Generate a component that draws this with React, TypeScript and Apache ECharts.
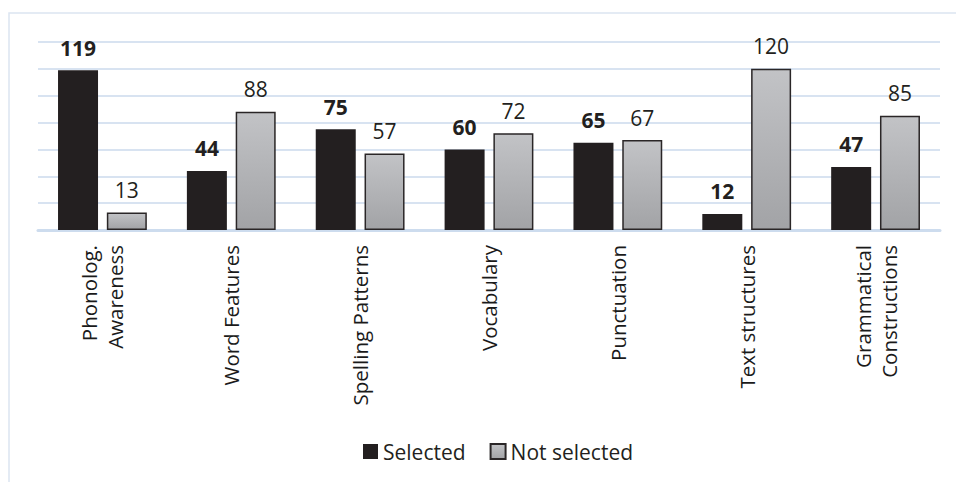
import React, { useEffect, useRef } from "react";
import * as echarts from "echarts";

const categories = [
  "Phonolog.\nAwareness",
  "Word Features",
  "Spelling Patterns",
  "Vocabulary",
  "Punctuation",
  "Text structures",
  "Grammatical\nConstructions",
];
const selected = [119, 44, 75, 60, 65, 12, 47];
const notSelected = [13, 88, 57, 72, 67, 120, 85];

const FONT = "'Open Sans', 'Noto Sans', sans-serif";

export default function App() {
  const ref = useRef<HTMLDivElement>(null);
  useEffect(() => {
    if (!ref.current) return;
    const chart = echarts.init(ref.current, null, { renderer: "svg" });
    const grayGrad = new echarts.graphic.LinearGradient(0, 0, 0, 1, [
      { offset: 0, color: "#c2c3c6" },
      { offset: 1, color: "#a2a3a6" },
    ]);
    chart.setOption({
      animation: false,
      backgroundColor: "#ffffff",
      textStyle: { fontFamily: FONT },
      graphic: [
        {
          type: "rect",
          shape: { x: 9, y: 13, width: 960, height: 500 },
          style: { fill: "none", stroke: "#dce5f1", lineWidth: 1.5 },
          silent: true,
          z: -1,
        },
      ],
      grid: { left: 38, right: 16, top: 42, bottom: 252, containLabel: false },
      legend: {
        left: 358,
        top: 436,
        itemWidth: 15,
        itemHeight: 15,
        itemGap: 24,
        textStyle: { fontFamily: FONT, fontSize: 21, color: "#231f20" },
        data: [
          { name: "Selected", icon: "rect" },
          { name: "Not selected", icon: "rect" },
        ],
      },
      xAxis: {
        type: "category",
        data: categories,
        axisLine: { show: true, lineStyle: { color: "#cddcee", width: 3 } },
        axisTick: { show: false },
        axisLabel: {
          rotate: 90,
          interval: 0,
          margin: 15,
          fontFamily: FONT,
          fontSize: 20.5,
          color: "#1a1a1a",
          lineHeight: 26,
        },
      },
      yAxis: {
        type: "value",
        min: 0,
        max: 140,
        interval: 20,
        axisLabel: { show: false },
        axisLine: { show: false },
        axisTick: { show: false },
        splitLine: { lineStyle: { color: "#d8e3f1", width: 2 } },
      },
      series: [
        {
          name: "Selected",
          type: "bar",
          data: selected,
          barWidth: 40,
          barGap: "22%",
          itemStyle: { color: "#231f20" },
          label: {
            show: true,
            position: "top",
            distance: 12,
            fontFamily: FONT,
            fontSize: 21,
            fontWeight: "bold",
            color: "#231f20",
          },
        },
        {
          name: "Not selected",
          type: "bar",
          data: notSelected,
          barWidth: 40,
          itemStyle: { color: grayGrad, borderColor: "#2a2627", borderWidth: 1.5 },
          label: {
            show: true,
            position: "top",
            distance: 12,
            fontFamily: FONT,
            fontSize: 21,
            color: "#231f20",
          },
        },
      ],
    });
    return () => chart.dispose();
  }, []);
  return (
    <div
      ref={ref}
      style={{ position: "fixed", left: 0, top: 0, width: 956, height: 482 }}
    />
  );
}
